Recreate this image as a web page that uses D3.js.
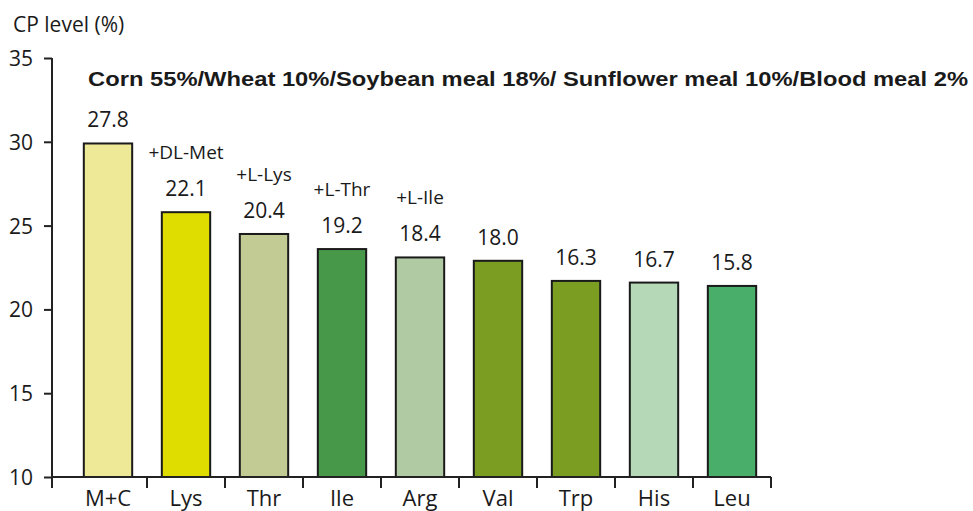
<!DOCTYPE html>
<html>
<head>
<meta charset="utf-8">
<script src="https://cdn.jsdelivr.net/npm/d3@7"></script>
<style>
  body { margin: 0; background: white; }
  text { font-family: "Open Sans", "Noto Sans", sans-serif; fill: #1a1a1a; }
</style>
</head>
<body>
<div id="chart"></div>
<script>
// bar heights are CP level, labels above are the amino acid values
const aminoAcids = ["M+C", "Lys", "Thr", "Ile", "Arg", "Val", "Trp", "His", "Leu"];
const cpLevel = [29.9, 25.8, 24.5, 23.6, 23.1, 22.9, 21.7, 21.6, 21.4];
const valueLabels = ["27.8", "22.1", "20.4", "19.2", "18.4", "18.0", "16.3", "16.7", "15.8"];
const additions = ["", "+DL-Met", "+L-Lys", "+L-Thr", "+L-Ile", "", "", "", ""];
const barColors = ["#eee997", "#dfdd00", "#c2cb93", "#48984a", "#b0cba4", "#7b9e22", "#7b9e22", "#b5d9b7", "#4aae6b"];
const yTicks = [10, 15, 20, 25, 30, 35];
const title = "Corn 55%/Wheat 10%/Soybean meal 18%/ Sunflower meal 10%/Blood meal 2%";

const width = 973, height = 511;
const axisX = 52, baseY = 477;

const svg = d3.select("#chart")
  .append("svg")
    .attr("width", width)
    .attr("height", height);

const x = d3.scaleBand()
  .domain(aminoAcids)
  .range([69, 771])
  .paddingInner(0.38)
  .paddingOuter(0.19);

const y = d3.scaleLinear()
  .domain([10, 35])
  .range([baseY, 58]);

// y axis
const yAxis = svg.append("g")
  .attr("transform", `translate(${axisX},0)`)
  .call(d3.axisLeft(y).tickValues(yTicks).tickSize(8).tickSizeOuter(0));
yAxis.select(".domain").remove();
yAxis.selectAll(".tick line").attr("stroke", "#222").attr("stroke-width", 2);
yAxis.selectAll(".tick text")
  .attr("x", -19)
  .attr("dy", "0.36em")
  .style("font-size", "21px")
  .style("font-family", "'Open Sans', sans-serif")
  .attr("fill", "#1a1a1a");

svg.append("line")
  .attr("x1", axisX).attr("x2", axisX)
  .attr("y1", y(35)).attr("y2", baseY + 11)
  .attr("stroke", "#222").attr("stroke-width", 2);

// bars
svg.selectAll("rect.bar")
  .data(aminoAcids)
  .enter().append("rect")
    .attr("class", "bar")
    .attr("x", d => x(d))
    .attr("y", (d, i) => y(cpLevel[i]))
    .attr("width", x.bandwidth())
    .attr("height", (d, i) => y(10) - y(cpLevel[i]))
    .attr("fill", (d, i) => barColors[i])
    .attr("stroke", "#1a1a1a")
    .attr("stroke-width", 2);

// x axis line and dividers between categories
const step = x.step();
const x0 = x.range()[0];
svg.append("line")
  .attr("x1", axisX).attr("x2", x.range()[1])
  .attr("y1", baseY).attr("y2", baseY)
  .attr("stroke", "#222").attr("stroke-width", 2);
svg.selectAll("line.divider")
  .data(d3.range(1, aminoAcids.length + 1))
  .enter().append("line")
    .attr("class", "divider")
    .attr("x1", i => x0 + i * step).attr("x2", i => x0 + i * step)
    .attr("y1", baseY).attr("y2", baseY + 11)
    .attr("stroke", "#222").attr("stroke-width", 2);

// category labels
svg.selectAll("text.cat")
  .data(aminoAcids)
  .enter().append("text")
    .attr("class", "cat")
    .attr("x", d => x(d) + x.bandwidth() / 2)
    .attr("y", 506)
    .attr("text-anchor", "middle")
    .style("font-size", "22px")
    .text(d => d);

// value labels
svg.selectAll("text.val")
  .data(aminoAcids)
  .enter().append("text")
    .attr("class", "val")
    .attr("x", d => x(d) + x.bandwidth() / 2)
    .attr("y", (d, i) => y(cpLevel[i]) - 16)
    .attr("text-anchor", "middle")
    .style("font-size", "21px")
    .text((d, i) => valueLabels[i]);

// added amino acid labels
svg.selectAll("text.add")
  .data(aminoAcids)
  .enter().append("text")
    .attr("class", "add")
    .attr("x", d => x(d) + x.bandwidth() / 2)
    .attr("y", (d, i) => y(cpLevel[i]) - 53)
    .attr("text-anchor", "middle")
    .style("font-size", "19px")
    .text((d, i) => additions[i]);

// y axis title
svg.append("text")
  .attr("x", 13)
  .attr("y", 32)
  .style("font-size", "21px")
  .text("CP level (%)");

// chart title
svg.append("text")
  .attr("x", 88)
  .attr("y", 86)
  .attr("textLength", 880)
  .attr("lengthAdjust", "spacingAndGlyphs")
  .style("font-family", "'Liberation Sans', Arial, sans-serif")
  .style("font-weight", "bold")
  .style("font-size", "20px")
  .attr("fill", "#000")
  .text(title);
</script>
</body>
</html>
